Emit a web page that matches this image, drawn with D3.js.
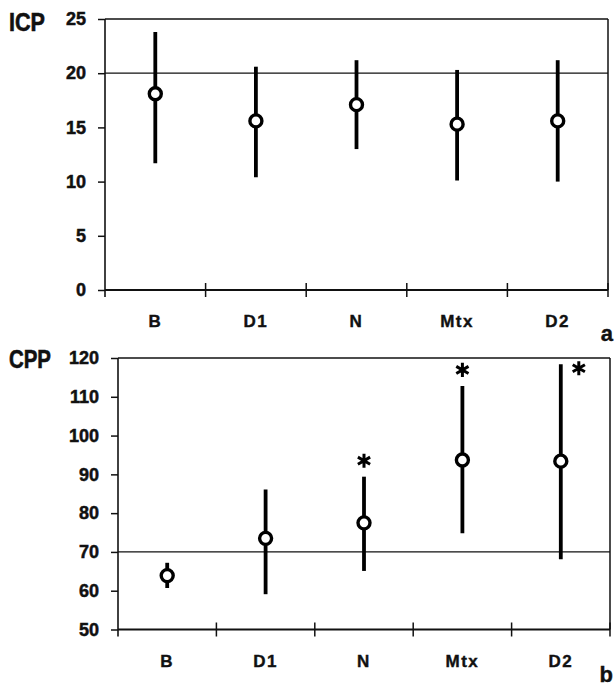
<!DOCTYPE html>
<html>
<head>
<meta charset="utf-8">
<script src="https://cdn.jsdelivr.net/npm/d3@7"></script>
<style>
  html, body { margin: 0; padding: 0; background: #fff; }
  svg { display: block; }
  .tick text { font-family: "Liberation Sans", Arial, sans-serif; font-weight: bold; }
</style>
</head>
<body>
<svg id="chart" width="616" height="687"></svg>
<script>
// Treatment phases shared by both panels
const categories = ["B", "D1", "N", "Mtx", "D2"];

// Panel a: intracranial pressure (mean with range)
const icpMean = [18.1, 15.6, 17.1, 15.3, 15.6];
const icpLow  = [11.7, 10.4, 13.0, 10.1, 10.0];
const icpHigh = [23.8, 20.6, 21.2, 20.3, 21.2];
const icpTicks = [0, 5, 10, 15, 20, 25];
const icpRef = 20;

// Panel b: cerebral perfusion pressure (mean with range)
const cppMean = [63.9, 73.5, 77.5, 93.7, 93.4];
const cppLow  = [60.7, 59.1, 65.1, 74.8, 68.1];
const cppHigh = [67.2, 86.1, 89.4, 112.8, 118.4];
const cppTicks = [50, 60, 70, 80, 90, 100, 110, 120];
const cppRef = 70;
const cppSignificant = [false, false, true, true, true];

const svg = d3.select("#chart");

function drawPanel(cfg) {
  const g = svg.append("g");
  const x = d3.scaleBand().domain(categories).range([cfg.left, cfg.right]).padding(0);
  const y = d3.scaleLinear().domain(cfg.domain).range([cfg.bottom, cfg.top]);

  // y axis with outward ticks
  const yAxis = g.append("g")
    .attr("transform", `translate(${cfg.left},0)`)
    .call(d3.axisLeft(y).tickValues(cfg.ticks).tickSizeInner(7).tickSizeOuter(0).tickPadding(12));
  yAxis.select(".domain").remove();
  yAxis.selectAll(".tick line").attr("stroke", "#111").attr("stroke-width", 1.5);
  yAxis.selectAll(".tick text").attr("font-size", 18).attr("fill", "#111")
    .attr("stroke", "#111").attr("stroke-width", 0.5);

  // x axis: category labels centred in each band
  const xAxis = g.append("g")
    .attr("transform", `translate(0,${cfg.bottom})`)
    .call(d3.axisBottom(x).tickSize(0).tickPadding(25));
  xAxis.select(".domain").remove();
  xAxis.selectAll(".tick text").attr("font-size", 17).attr("fill", "#111")
    .attr("stroke", "#111").attr("stroke-width", 0.4)
    .attr("letter-spacing", 1.5);

  // band boundary ticks crossing the x axis
  const bounds = categories.map(c => x(c)).concat([x.range()[1]]);
  g.append("g").selectAll("line").data(bounds.slice(1)).join("line")
    .attr("x1", d => d).attr("x2", d => d)
    .attr("y1", cfg.bottom - 7).attr("y2", cfg.bottom + 7)
    .attr("stroke", "#111").attr("stroke-width", 1.5);

  // frame
  const frame = g.append("g").attr("stroke", "#111").attr("fill", "none");
  frame.append("line").attr("x1", cfg.left).attr("x2", cfg.left)
    .attr("y1", cfg.top).attr("y2", cfg.bottom + 7).attr("stroke-width", 1.6);
  frame.append("line").attr("x1", cfg.left).attr("x2", cfg.right)
    .attr("y1", cfg.bottom).attr("y2", cfg.bottom).attr("stroke-width", 2);
  frame.append("line").attr("x1", cfg.left).attr("x2", cfg.right)
    .attr("y1", cfg.top).attr("y2", cfg.top).attr("stroke-width", 1.5);
  frame.append("line").attr("x1", cfg.right).attr("x2", cfg.right)
    .attr("y1", cfg.top).attr("y2", cfg.bottom).attr("stroke-width", 1.5);

  // reference level
  g.append("line")
    .attr("x1", cfg.left).attr("x2", cfg.right)
    .attr("y1", y(cfg.ref)).attr("y2", y(cfg.ref))
    .attr("stroke", "#111").attr("stroke-width", 1.3);

  const rows = categories.map((c, i) => ({
    c, mean: cfg.mean[i], lo: cfg.low[i], hi: cfg.high[i],
    sig: cfg.sig ? cfg.sig[i] : false
  }));
  const cx = d => x(d.c) + x.bandwidth() / 2;

  // range bars
  g.append("g").selectAll("line").data(rows).join("line")
    .attr("x1", cx).attr("x2", cx)
    .attr("y1", d => y(d.lo)).attr("y2", d => y(d.hi))
    .attr("stroke", "#000").attr("stroke-width", 3.8);

  // mean markers
  g.append("g").selectAll("circle").data(rows).join("circle")
    .attr("cx", cx).attr("cy", d => y(d.mean)).attr("r", 6)
    .attr("fill", "#fff").attr("stroke", "#000").attr("stroke-width", 3.4);

  // significance asterisks: above the bar, or beside it when the bar reaches the top
  const star = d3.symbol().type(d3.symbolAsterisk).size(140);
  g.append("g").selectAll("path").data(rows.filter(d => d.sig)).join("path")
    .attr("d", star)
    .attr("transform", d => {
      const above = y(d.hi) - 16;
      return above > cfg.top + 8
        ? `translate(${cx(d)},${above})`
        : `translate(${cx(d) + 18},${y(d.hi) + 4})`;
    })
    .attr("fill", "none").attr("stroke", "#000").attr("stroke-width", 3);

  // variable name
  svg.append("text")
    .attr("x", 9).attr("y", cfg.titleY)
    .attr("font-family", "'Liberation Sans Narrow', 'Liberation Sans', Arial, sans-serif")
    .attr("font-weight", "bold").attr("font-size", 25)
    .attr("textLength", cfg.titleW).attr("lengthAdjust", "spacingAndGlyphs")
    .attr("fill", "#111").attr("stroke", "#111").attr("stroke-width", 0.6)
    .text(cfg.title);

  // panel letter
  svg.append("text")
    .attr("x", 613).attr("y", cfg.letterY).attr("text-anchor", "end")
    .attr("font-family", "'Liberation Sans', Arial, sans-serif")
    .attr("font-weight", "bold").attr("font-size", 22).attr("fill", "#111")
    .attr("stroke", "#111").attr("stroke-width", 0.4)
    .text(cfg.letter);
}

drawPanel({
  left: 105, right: 608, top: 19, bottom: 290,
  domain: [0, 25], ticks: icpTicks, ref: icpRef,
  mean: icpMean, low: icpLow, high: icpHigh,
  title: "ICP", titleY: 31, titleW: 36, letter: "a", letterY: 341
});

drawPanel({
  left: 118, right: 610, top: 358, bottom: 629.5,
  domain: [50, 120], ticks: cppTicks, ref: cppRef,
  mean: cppMean, low: cppLow, high: cppHigh, sig: cppSignificant,
  title: "CPP", titleY: 368, titleW: 42, letter: "b", letterY: 682
});
</script>
</body>
</html>
